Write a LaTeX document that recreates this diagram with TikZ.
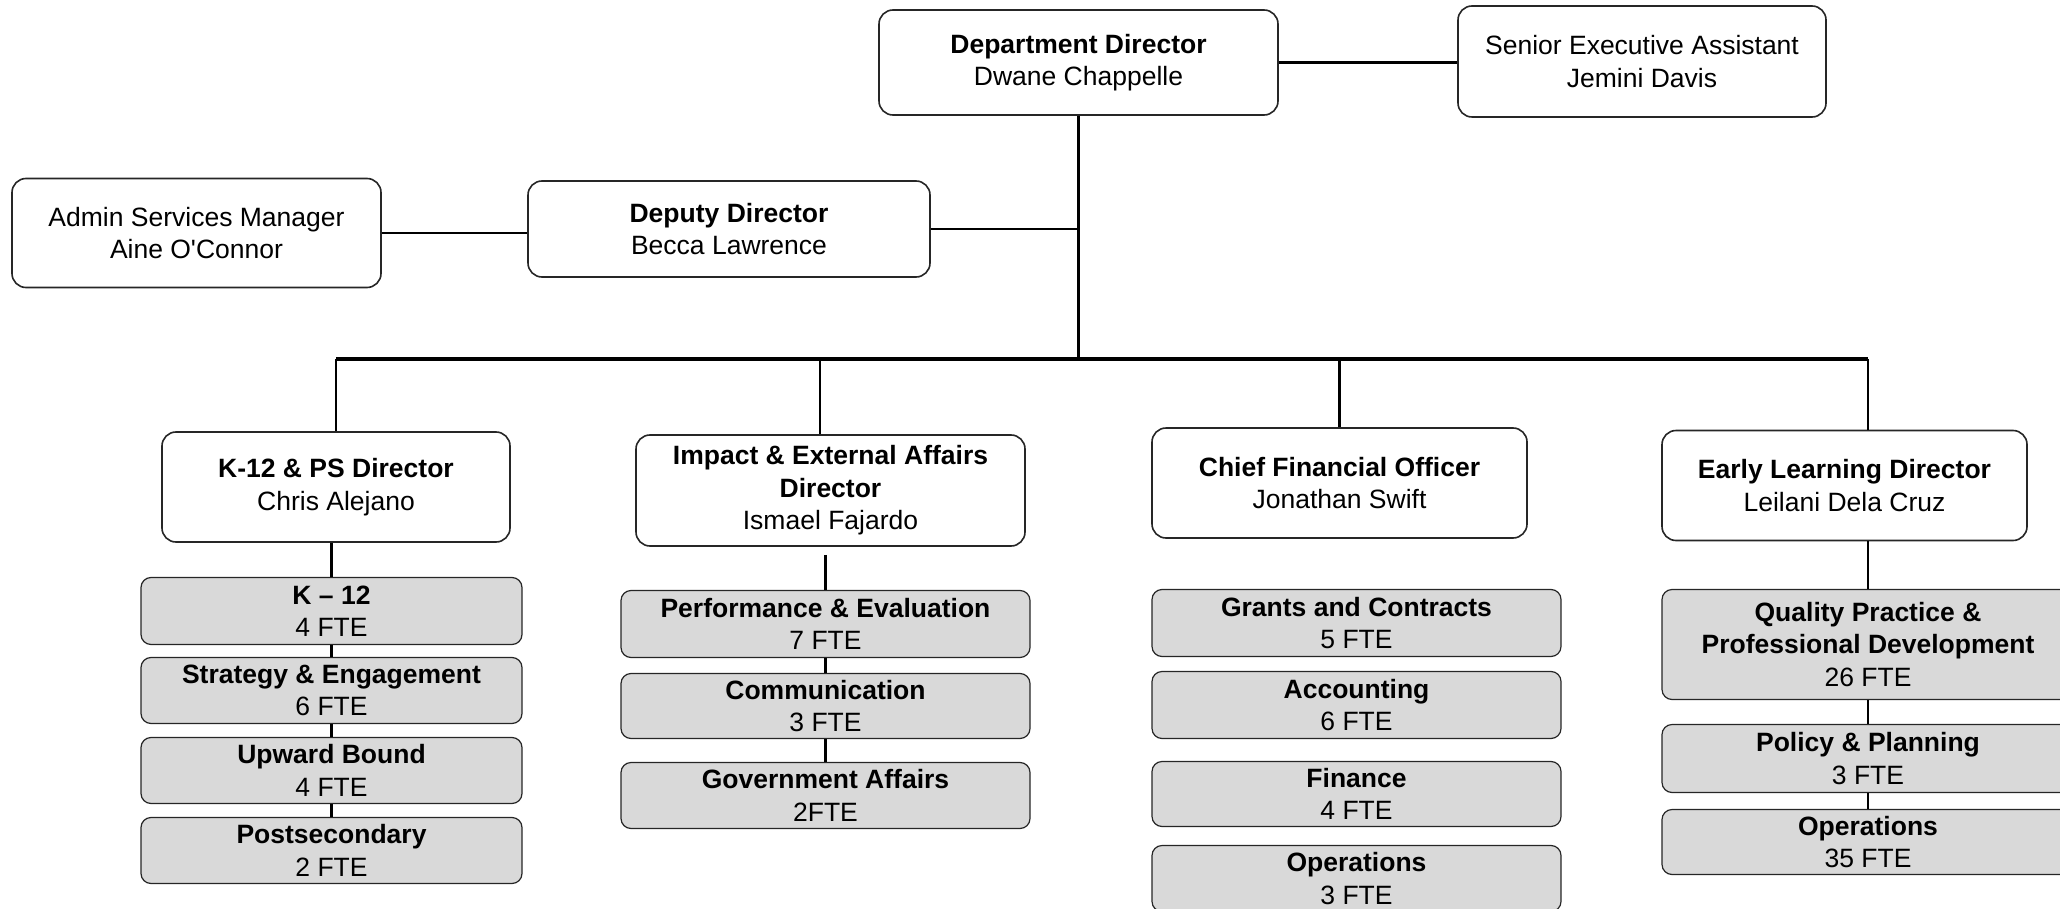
\documentclass[tikz,border=0pt]{standalone}
\usepackage{fontspec}
\setmainfont{Liberation Sans}
\definecolor{boxgray}{HTML}{D9D9D9}
\begin{document}
\begin{tikzpicture}[x=0.5pt,y=-0.5pt,
  txt/.style={align=center, inner sep=0pt, font=\fontsize{13.25}{16.2}\selectfont},
  wbox/.style={txt, draw=black!85, line width=0.8pt, rounded corners=7pt, fill=white},
  gbox/.style={txt, draw=black!85, line width=0.6pt, rounded corners=5pt, fill=boxgray},
  conn/.style={line width=1.1pt, black},
  bus/.style={line width=1.6pt, black}]
\useasboundingbox (0,0) rectangle (2060,909);
% top level
\node[wbox, minimum width=199.5pt, minimum height=52.5pt] (dd) at (1078.5,62.5) {\textbf{Department Director}\\Dwane Chappelle};
\node[wbox, minimum width=184pt, minimum height=55.5pt] (sea) at (1642,61.5) {Senior Executive Assistant\\Jemini Davis};
\node[wbox, minimum width=184.5pt, minimum height=54.5pt] (asm) at (196.5,233) {Admin Services Manager\\Aine O\textquotesingle Connor};
\node[wbox, minimum width=201pt, minimum height=48pt] (dep) at (729,229) {\textbf{Deputy Director}\\Becca Lawrence};
% directors
\node[wbox, minimum width=174pt, minimum height=55pt] (k12d) at (336,487) {\textbf{K-12 \& PS Director}\\Chris Alejano};
\node[wbox, minimum width=194.5pt, minimum height=55.5pt] (ied) at (830.5,490.5) {\textbf{Impact \& External Affairs}\\\textbf{Director}\\Ismael Fajardo};
\node[wbox, minimum width=187.5pt, minimum height=55pt] (cfo) at (1339.5,483) {\textbf{Chief Financial Officer}\\Jonathan Swift};
\node[wbox, minimum width=182.5pt, minimum height=55pt] (eld) at (1844.5,485.5) {\textbf{Early Learning Director}\\Leilani Dela Cruz};
% column 1
\node[gbox, minimum width=190.5pt, minimum height=33.5pt] (g11) at (331.5,611) {\textbf{K – 12}\\4 FTE};
\node[gbox, minimum width=190.5pt, minimum height=33pt] (g12) at (331.5,690.5) {\textbf{Strategy \& Engagement}\\6 FTE};
\node[gbox, minimum width=190.5pt, minimum height=33pt] (g13) at (331.5,770.5) {\textbf{Upward Bound}\\4 FTE};
\node[gbox, minimum width=190.5pt, minimum height=33pt] (g14) at (331.5,850.5) {\textbf{Postsecondary}\\2 FTE};
% column 2
\node[gbox, minimum width=204.5pt, minimum height=33.5pt] (g21) at (825.5,624) {\textbf{Performance \& Evaluation}\\7 FTE};
\node[gbox, minimum width=204.5pt, minimum height=32.5pt] (g22) at (825.5,706) {\textbf{Communication}\\3 FTE};
\node[gbox, minimum width=204.5pt, minimum height=33pt] (g23) at (825.5,795.5) {\textbf{Government Affairs}\\2FTE};
% column 3
\node[gbox, minimum width=204.5pt, minimum height=33.5pt] (g31) at (1356.5,623) {\textbf{Grants and Contracts}\\5 FTE};
\node[gbox, minimum width=204.5pt, minimum height=33.5pt] (g32) at (1356.5,705) {\textbf{Accounting}\\6 FTE};
\node[gbox, minimum width=204.5pt, minimum height=32.5pt] (g33) at (1356.5,794) {\textbf{Finance}\\4 FTE};
\node[gbox, minimum width=204.5pt, minimum height=33pt] (g34) at (1356.5,878.5) {\textbf{Operations}\\3 FTE};
% column 4
\node[gbox, minimum width=206pt, minimum height=55pt] (g41) at (1868,644.5) {\textbf{Quality Practice \&}\\\textbf{Professional Development}\\26 FTE};
\node[gbox, minimum width=206pt, minimum height=34pt] (g42) at (1868,758.5) {\textbf{Policy \& Planning}\\3 FTE};
\node[gbox, minimum width=206pt, minimum height=32.5pt] (g43) at (1868,842) {\textbf{Operations}\\35 FTE};
% connectors
\coordinate (b1) at (336,359);
\coordinate (b2) at (820,359);
\coordinate (b3) at (1339.5,359);
\coordinate (b4) at (1868,359);
\coordinate (bt) at (1078.5,359);
\draw[conn] (dd.east) -- (dd.east -| sea.west);
\draw[conn] (dd.south) -- (bt);
\draw[conn] (dep.east) -- (dep.east -| dd.south);
\draw[conn] (asm.east) -- (asm.east -| dep.west);
\draw[bus] (b1) -- (b4);
\draw[conn] (b1) -- (b1 |- k12d.north);
\draw[conn] (b2) -- (b2 |- ied.north);
\draw[conn] (b3) -- (b3 |- cfo.north);
\draw[conn] (b4) -- (b4 |- eld.north);
\draw[conn] (k12d.south -| g11.north) -- (g11.north);
\draw[conn] (g11.south) -- (g12.north);
\draw[conn] (g12.south) -- (g13.north);
\draw[conn] (g13.south) -- (g14.north);
\draw[conn, shorten <=4pt] (ied.south -| g21.north) -- (g21.north);
\draw[conn] (g21.south) -- (g22.north);
\draw[conn] (g22.south) -- (g23.north);
\draw[conn] (eld.south -| g41.north) -- (g41.north);
\draw[conn] (g41.south) -- (g42.north);
\draw[conn] (g42.south) -- (g43.north);
\end{tikzpicture}
\end{document}
